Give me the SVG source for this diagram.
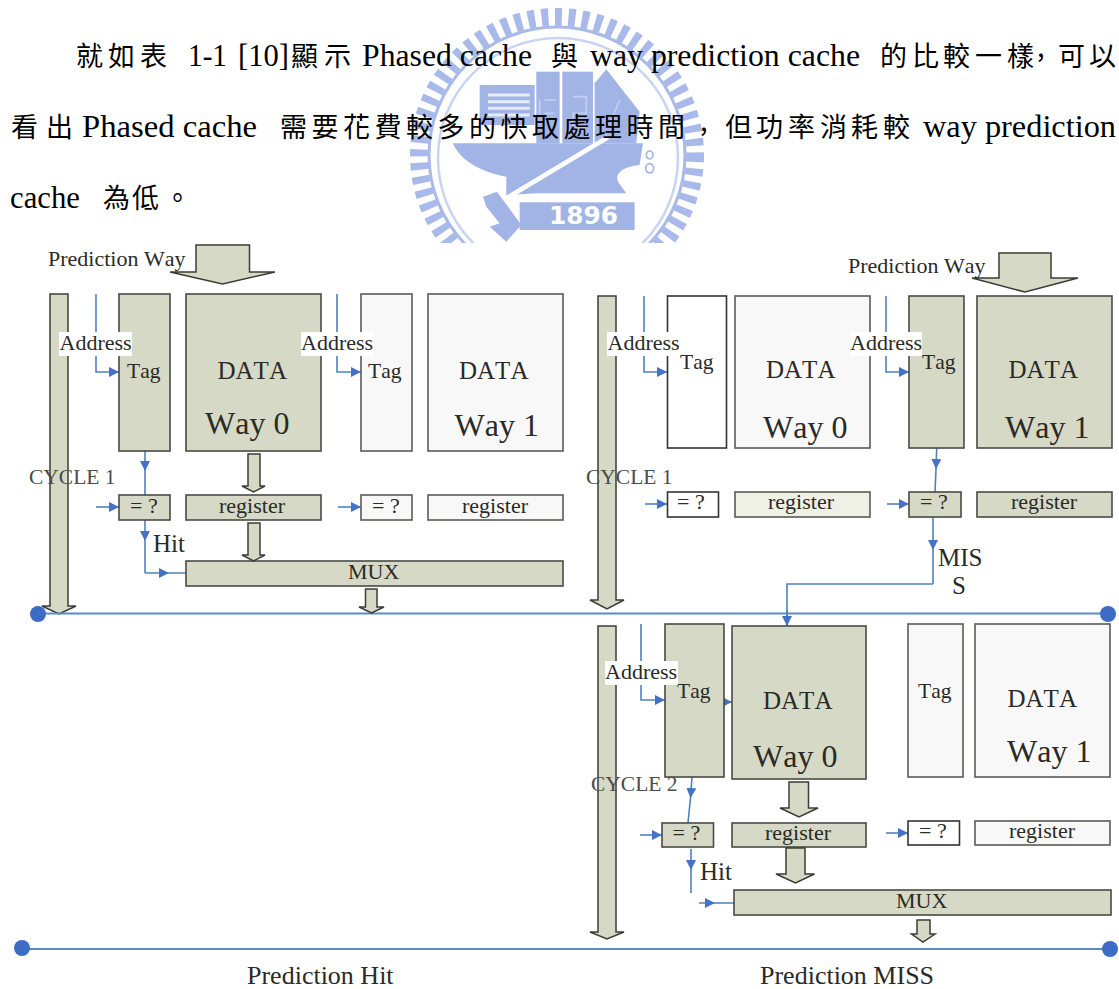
<svg xmlns="http://www.w3.org/2000/svg" width="1119" height="989" viewBox="0 0 1119 989">
<style>
text{font-family:"Liberation Serif","Noto Sans CJK TC",serif;fill:#2a2a26;font-kerning:none}
.p{font-size:31.5px;fill:#000}
.c{font-family:"Noto Sans CJK TC",sans-serif;font-size:27px;fill:#000}
.b{fill:#d6d9c5;stroke:#4a4a44;stroke-width:1.6}
.l{fill:#f8f8f8;stroke:#5a5a55;stroke-width:1.6}
.w{fill:#fff;stroke:#333;stroke-width:1.6}
.a{fill:#d6d9c5;stroke:#3c3c36;stroke-width:1.5;stroke-linejoin:miter}
.n{fill:none;stroke:#4f81bd;stroke-width:1.6}
.s{font-size:22px}.t{font-size:21.5px}.d{font-size:25px}.y{font-size:32px}.k{font-size:21.5px;fill:#4c4c46}.h{font-size:26px}
.m{fill:#fff}
.wm{fill:#a2b4e6}
.dot{fill:#3d6cc4}
.bar{stroke:#5b8bc9;stroke-width:2;fill:none}
</style>
<defs>
<marker id="ah" viewBox="0 0 10 10" refX="10" refY="5" markerWidth="10" markerHeight="10" markerUnits="userSpaceOnUse" orient="auto"><path d="M0 0L10 5L0 10Z" fill="#4472c4"/></marker>
<clipPath id="wmc"><rect x="380" y="0" width="360" height="243"/></clipPath>
</defs>
<rect width="1119" height="989" fill="#fff"/>

<g id="watermark" clip-path="url(#wmc)">
<circle cx="557" cy="155" r="138" fill="none" stroke="#a9baea" stroke-width="18" stroke-dasharray="7 6.5"/>
<circle cx="557" cy="155" r="128" fill="none" stroke="#a9baea" stroke-width="3"/>
<circle cx="558" cy="158" r="120" fill="none" stroke="#c9d4f2" stroke-width="2.5"/>
<g transform="translate(373 0) scale(.3333)">
<rect class="wm" x="320" y="255" width="165" height="120"/>
<path d="M345 285H470M345 305H470M345 325H470M345 345H470" stroke="#e6ebf9" stroke-width="9" fill="none"/>
<rect class="wm" x="490" y="215" width="70" height="215"/>
<rect class="wm" x="568" y="215" width="92" height="215"/>
<path class="wm" d="M665 250L700 208L800 335L790 430H665Z"/>
<path class="wm" d="M240 430H810L800 495C750 500 725 520 735 545L760 580H490L400 585L400 530C340 520 265 490 240 430Z"/>
<path d="M500 345V300M515 300H550M515 340H545M600 290H640V340H600V385H640M740 300L715 360" stroke="#c3cff0" stroke-width="5" fill="none"/>
<path d="M375 610L705 412" stroke="#fff" stroke-width="14" fill="none"/>
<path class="wm" d="M330 590L372 575L445 675L400 725L350 680L380 670L340 620Z"/>
<rect class="wm" x="440" y="607" width="345" height="83"/>
<ellipse cx="830" cy="465" rx="10" ry="12" fill="none" stroke="#a2b4e6" stroke-width="5"/>
<ellipse cx="830" cy="505" rx="12" ry="14" fill="none" stroke="#a2b4e6" stroke-width="5"/>
</g>
<text x="549" y="224" font-size="24" textLength="69" lengthAdjust="spacingAndGlyphs" style="font-family:'DejaVu Sans',sans-serif;font-weight:700;fill:#fff">1896</text>
</g>

<g id="paragraph">
<text class="c" y="66" x="76 108 140">就如表</text>
<text class="p" x="188" y="66" textLength="39" lengthAdjust="spacingAndGlyphs">1-1</text>
<text class="p" x="238" y="66" textLength="51" lengthAdjust="spacingAndGlyphs">[10]</text>
<text class="c" y="66" x="291 324">顯示</text>
<text class="p" x="362" y="66" textLength="170" lengthAdjust="spacingAndGlyphs">Phased cache</text>
<text class="c" y="66" x="551">與</text>
<text class="p" x="590" y="66" textLength="270" lengthAdjust="spacingAndGlyphs">way prediction cache</text>
<text class="c" y="66" x="880 912 943 975 1007">的比較一樣</text>
<text class="c" y="57" x="1037">,</text>
<text class="c" y="66" x="1058 1089">可以</text>
<text class="c" y="137" x="11 46">看出</text>
<text class="p" x="82" y="137" textLength="175" lengthAdjust="spacingAndGlyphs">Phased cache</text>
<text class="c" y="137" x="280 311.5 343 374.5 406 437.5 469 500.5 532 563.5 595 626.5 658">需要花費較多的快取處理時間</text>
<text class="c" y="131" x="700">,</text>
<text class="c" y="137" x="725 756 788 820 851 883">但功率消耗較</text>
<text class="p" x="923" y="137" textLength="193" lengthAdjust="spacingAndGlyphs">way prediction</text>
<text class="p" x="10" y="208" textLength="70" lengthAdjust="spacingAndGlyphs">cache</text>
<text class="c" y="208" x="103 132 164">為低。</text>
</g>

<g id="cols">
<polygon id="col-hit" class="a" points="50,294 68,294 68,606 76,606 59,614 42,606 50,606"/>
<polygon id="col-miss-1" class="a" points="598,296 616,296 616,600 624,600 607,609 590,600 598,600"/>
<polygon id="col-miss-2" class="a" points="598,626 616,626 616,932 624,932 607,939 590,932 598,932"/>
</g>

<g id="connectors">
<path class="bar" d="M38 613.5H1108"/>
<path class="bar" d="M22 949H1110"/>
<path class="n" marker-end="url(#ah)" d="M96 294V372H119"/>
<path class="n" marker-end="url(#ah)" d="M337 294V372H361"/>
<path class="n" marker-mid="url(#ah)" d="M145 451V471V495"/>
<path class="n" marker-end="url(#ah)" d="M96 507H119"/>
<path class="n" marker-end="url(#ah)" d="M338 507H361"/>
<path class="n" marker-mid="url(#ah)" d="M145 520V541V573"/>
<path class="n" marker-mid="url(#ah)" d="M145 573H169H186"/>
<path class="n" marker-end="url(#ah)" d="M644 296V372H667"/>
<path class="n" marker-end="url(#ah)" d="M886 296V372H909"/>
<path class="n" marker-mid="url(#ah)" d="M936.7 448L936 469L935 492"/>
<path class="n" marker-end="url(#ah)" d="M645 504H667"/>
<path class="n" marker-end="url(#ah)" d="M887 504H909"/>
<path class="n" marker-mid="url(#ah)" d="M933 517V550V584"/>
<path class="n" d="M933 584H787V625"/>
<path class="n" marker-end="url(#ah)" d="M787 610V626"/>
<path class="n" marker-end="url(#ah)" d="M641 624V700H665"/>
<path class="n" marker-end="url(#ah)" d="M723 702H732"/>
<path class="n" marker-mid="url(#ah)" d="M692 777L690.5 798L688 823"/>
<path class="n" marker-end="url(#ah)" d="M640 835H662"/>
<path class="n" marker-end="url(#ah)" d="M886 833H908"/>
<path class="n" marker-mid="url(#ah)" d="M691 849V870V893"/>
<path class="n" marker-mid="url(#ah)" d="M699 903H715H734"/>
</g>

<g id="hit-way0">
<rect id="hit-tag0" class="b" x="119" y="294" width="51" height="157"/>
<text class="t" x="127" y="378">Tag</text>
<rect id="hit-data0" class="b" x="186" y="294" width="135" height="157"/>
<text class="d" x="217.5" y="379">DATA</text>
<text class="y" x="205" y="434">Way 0</text>
<rect id="hit-cmp0" class="b" x="119" y="495" width="51" height="25"/>
<text class="s" x="130" y="513">= ?</text>
<rect id="hit-reg0" class="b" x="186" y="495" width="135" height="25"/>
<text class="s" x="219" y="513">register</text>
</g>
<g id="hit-way1">
<rect id="hit-tag1" class="l" x="361" y="294" width="51" height="157"/>
<text class="t" x="368" y="378">Tag</text>
<rect id="hit-data1" class="l" x="428" y="294" width="135" height="157"/>
<text class="d" x="459" y="379">DATA</text>
<text class="y" x="454.5" y="436">Way 1</text>
<rect id="hit-cmp1" class="l" x="361" y="495" width="51" height="25"/>
<text class="s" x="372" y="513">= ?</text>
<rect id="hit-reg1" class="l" x="428" y="495" width="135" height="25"/>
<text class="s" x="462" y="513">register</text>
</g>
<g id="hit-mux">
<rect class="b" x="186" y="561" width="377" height="25"/>
<text class="s" x="348" y="579">MUX</text>
</g>
<g id="hit-arrows">
<polygon class="a" points="196,245 249.5,245 249.5,272 275,272 222.5,284 170,272 196,272"/>
<polygon class="a" points="248,454 260,454 260,486 265,486 253.5,492 242,486 248,486"/>
<polygon class="a" points="248,523 260,523 260,555 265,555 253.5,561 242,555 248,555"/>
<polygon class="a" points="365.5,589 377,589 377,607 384,607 371.5,613 359,607 365.5,607"/>
</g>

<g id="miss1-way0">
<rect id="m1-tag0" class="w" x="667.5" y="296" width="59" height="152"/>
<text class="t" x="680" y="369">Tag</text>
<rect id="m1-data0" class="l" x="735" y="296" width="135" height="152"/>
<text class="d" x="766" y="378">DATA</text>
<text class="y" x="763" y="438">Way 0</text>
<rect id="m1-cmp0" class="w" x="667.5" y="492" width="51" height="25"/>
<text class="s" x="677" y="509">= ?</text>
<rect id="m1-reg0" class="l" x="735" y="492" width="135" height="25" style="fill:#eff0e6"/>
<text class="s" x="768" y="509">register</text>
</g>
<g id="miss1-way1">
<rect id="m1-tag1" class="b" x="909" y="296" width="55" height="152"/>
<text class="t" x="922" y="369">Tag</text>
<rect id="m1-data1" class="b" x="977" y="296" width="135" height="152"/>
<text class="d" x="1008.5" y="378">DATA</text>
<text class="y" x="1005" y="438">Way 1</text>
<rect id="m1-cmp1" class="b" x="909" y="492" width="52" height="25"/>
<text class="s" x="920" y="509">= ?</text>
<rect id="m1-reg1" class="b" x="977" y="492" width="135" height="25"/>
<text class="s" x="1011" y="509">register</text>
</g>
<g id="miss1-arrow">
<polygon class="a" points="999,253 1051,253 1051,278 1078,278 1025,292 972,278 999,278"/>
</g>

<g id="miss2-way0">
<rect id="m2-tag0" class="b" x="665" y="624" width="59" height="153"/>
<text class="t" x="677" y="698">Tag</text>
<rect id="m2-data0" class="b" x="732" y="626" width="134" height="153"/>
<text class="d" x="763" y="709">DATA</text>
<text class="y" x="753" y="767">Way 0</text>
<rect id="m2-cmp0" class="b" x="662" y="823" width="51.5" height="24"/>
<text class="s" x="672.5" y="840">= ?</text>
<rect id="m2-reg0" class="b" x="732" y="823" width="134" height="24"/>
<text class="s" x="765" y="840">register</text>
</g>
<g id="miss2-way1">
<rect id="m2-tag1" class="l" x="908" y="624" width="55" height="153"/>
<text class="t" x="918" y="698">Tag</text>
<rect id="m2-data1" class="l" x="975" y="624" width="135" height="153"/>
<text class="d" x="1007.5" y="707">DATA</text>
<text class="y" x="1007" y="762">Way 1</text>
<rect id="m2-cmp1" class="w" x="908" y="821" width="51.5" height="24"/>
<text class="s" x="919" y="838">= ?</text>
<rect id="m2-reg1" class="l" x="975" y="821" width="135" height="24"/>
<text class="s" x="1009" y="838">register</text>
</g>
<g id="miss2-mux">
<rect class="b" x="734" y="890" width="377" height="25"/>
<text class="s" x="896" y="908">MUX</text>
</g>
<g id="miss2-arrows">
<polygon class="a" points="789,782 808.5,782 808.5,808 818,808 799,817 780,808 789,808"/>
<polygon class="a" points="786,848 805,848 805,874 814.5,874 795.5,883 776,874 786,874"/>
<polygon class="a" points="917,920 930,920 930,934 935,934 923,942 911.5,934 917,934"/>
</g>

<g id="dots">
<circle class="dot" cx="38" cy="614" r="8"/>
<circle class="dot" cx="1108" cy="614" r="8"/>
<circle class="dot" cx="22" cy="948" r="8"/>
<circle class="dot" cx="1110" cy="949" r="8"/>
</g>

<g id="labels">
<g id="addr-1"><rect class="m" x="59" y="332" width="73" height="24"/><text class="s" x="59.5" y="350">Address</text></g>
<g id="addr-2"><rect class="m" x="301" y="332" width="73" height="24"/><text class="s" x="301" y="350">Address</text></g>
<g id="addr-3"><rect class="m" x="607" y="332" width="73" height="24"/><text class="s" x="607.5" y="350">Address</text></g>
<g id="addr-4"><rect class="m" x="850" y="332" width="72" height="24"/><text class="s" x="850" y="350">Address</text></g>
<g id="addr-5"><rect class="m" x="605" y="661" width="73" height="24"/><text class="s" x="605" y="679">Address</text></g>
<text class="s" x="48" y="266">Prediction Way</text>
<text class="s" x="848" y="273">Prediction Way</text>
<text class="k" x="29" y="484">CYCLE 1</text>
<text class="k" x="586" y="484">CYCLE 1</text>
<text class="k" x="591" y="791">CYCLE 2</text>
<text class="d" x="153" y="552">Hit</text>
<text class="d" x="700" y="880">Hit</text>
<text class="d" x="938" y="566">MIS</text>
<text class="d" x="952" y="594">S</text>
<text class="h" x="247" y="984">Prediction Hit</text>
<text class="h" x="760" y="984">Prediction MISS</text>
</g>
</svg>
